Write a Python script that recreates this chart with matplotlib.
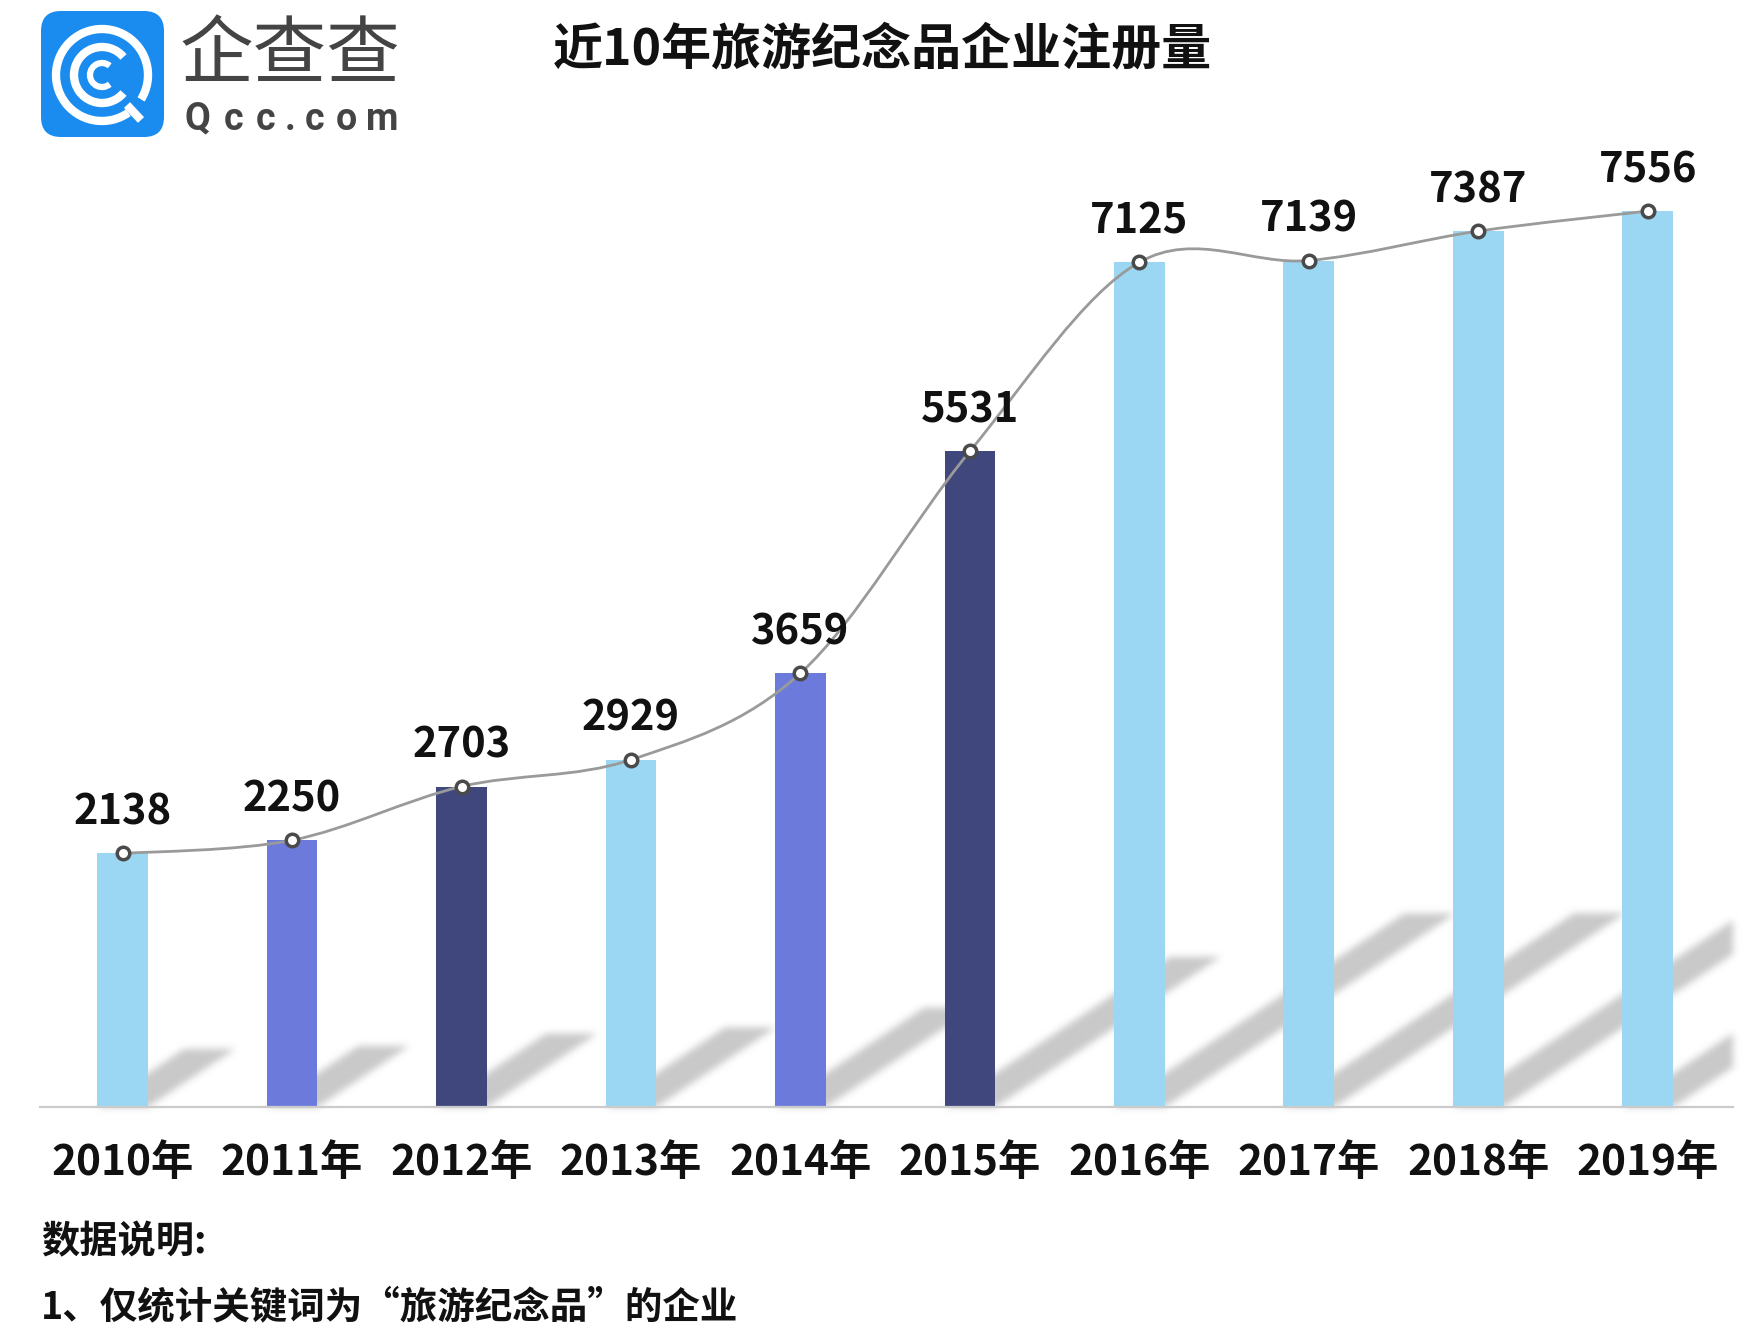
import numpy as np
import matplotlib
matplotlib.use("Agg")
import matplotlib.pyplot as plt
from matplotlib.patches import Polygon, PathPatch, FancyBboxPatch, Arc
from matplotlib.path import Path

plt.rcParams['font.family'] = ['Noto Sans CJK SC', 'DejaVu Sans']

years = ["2010年", "2011年", "2012年", "2013年", "2014年", "2015年", "2016年", "2017年", "2018年", "2019年"]
values = [2138, 2250, 2703, 2929, 3659, 5531, 7125, 7139, 7387, 7556]
LIGHT, MID, DARK = "#9BD7F3", "#6C7BDB", "#40477C"
bar_colors = [LIGHT, MID, DARK, LIGHT, MID, DARK, LIGHT, LIGHT, LIGHT, LIGHT]
title = "近10年旅游纪念品企业注册量"
note_head = "数据说明:"
note_line = "1、仅统计关键词为“旅游纪念品”的企业"

W, H = 1763, 1344
fig = plt.figure(figsize=(W / 100, H / 100), dpi=100, facecolor="white")
AX_L, AX_R, AX_B, AX_T = 39.5, 1733, 1107, 130
ax = fig.add_axes([AX_L / W, 1 - AX_B / H, (AX_R - AX_L) / W, (AX_B - AX_T) / H])
X0, DX = 122.6, 169.47
PY = 0.11857
ax.set_xlim((AX_L - X0) / DX, (AX_R - X0) / DX)
ax.set_ylim(0, (AX_B - AX_T) / PY)
x = np.arange(len(values))
BAR_W = 0.30


def blur(im, dpi, r=3):
    # Blur only the alpha channel so the shadow keeps its own grey
    pad = r * 3 + 2
    alpha = np.pad(im[:, :, 3], pad)
    for _ in range(3):
        for axis in (0, 1):
            alpha = np.apply_along_axis(lambda a: np.convolve(a, np.ones(2 * r + 1) / (2 * r + 1), mode="same"),
                                        axis, alpha)
    out = np.zeros(alpha.shape + (4,))
    out[:, :, :3] = matplotlib.colors.to_rgb("#C9C9C9")
    out[:, :, 3] = np.clip(alpha, 0, 1)
    return out, -pad, -pad


# Shadows: sheared copies of each bar, scaled from the bar's value
SH_H, SH_SHEAR = 0.229, 1.5
for xi, v in zip(x, values):
    h = v * SH_H
    shift = h * PY * SH_SHEAR / DX
    poly = Polygon([(xi - BAR_W / 2, 0), (xi + BAR_W / 2, 0),
                    (xi + BAR_W / 2 + shift, h), (xi - BAR_W / 2 + shift, h)],
                   closed=True, facecolor="#C9C9C9", edgecolor="none", zorder=1)
    poly.set_agg_filter(blur)
    ax.add_patch(poly)

ax.bar(x, values, width=BAR_W, color=bar_colors, zorder=2)

# Smoothed connecting line (Catmull-Rom Bezier segments through the values)
pts = np.column_stack([x, values]).astype(float)
verts = [tuple(pts[0])]
codes = [Path.MOVETO]
for i in range(len(pts) - 1):
    p0 = pts[max(i - 1, 0)]
    p1, p2 = pts[i], pts[i + 1]
    p3 = pts[min(i + 2, len(pts) - 1)]
    verts += [tuple(p1 + (p2 - p0) / 6), tuple(p2 - (p3 - p1) / 6), tuple(p2)]
    codes += [Path.CURVE4] * 3
ax.add_patch(PathPatch(Path(verts, codes), facecolor="none", edgecolor="#9A9A9A", lw=2.0, zorder=3))
ax.plot(x, values, ls="none", marker="o", ms=9, mfc="white", mec="#4A4A4A", mew=2.5, zorder=4)

for xi, v in zip(x, values):
    ax.annotate(str(v), (xi, v), xytext=(0, 29.5), textcoords="offset points",
                ha="center", va="center", fontsize=30, fontweight="bold", color="#111111", zorder=5)

for s in ("top", "left", "right"):
    ax.spines[s].set_visible(False)
ax.spines["bottom"].set_color("#CBCBCB")
ax.spines["bottom"].set_linewidth(1.6)
ax.set_yticks([])
ax.set_xticks(x)
ax.set_xticklabels(years, fontsize=30.5, fontweight="bold", color="#111111")
ax.tick_params(axis="x", length=0, pad=25)
ax.patch.set_visible(False)

# Overlay in pixel coordinates for the logo and texts
ov = fig.add_axes([0, 0, 1, 1], zorder=10)
ov.set_xlim(0, W)
ov.set_ylim(H, 0)
ov.axis("off")

ov.text(882, 50, title, ha="center", va="center", fontsize=36, fontweight="bold", color="#111111")
ov.text(41, 1242, note_head, ha="left", va="center", fontsize=27.5, fontweight="bold", color="#111111")
ov.text(41, 1307, note_line, ha="left", va="center", fontsize=27, fontweight="bold", color="#111111")

# Logo
BLUE = "#1A8CF0"
ov.add_patch(FancyBboxPatch((41 + 20, 11 + 20), 123 - 40, 126 - 40, boxstyle="round,pad=20,rounding_size=20",
                            facecolor=BLUE, edgecolor="none"))
cx, cy = 102, 75
ov.add_patch(Arc((cx, cy), 92, 92, theta1=55, theta2=32 + 360, edgecolor="white", lw=6))
ov.add_patch(Arc((cx, cy), 56, 56, theta1=40, theta2=320, edgecolor="white", lw=6))
ov.add_patch(Arc((cx, cy), 24, 24, theta1=50, theta2=310, edgecolor="white", lw=4.5))
ov.plot([127, 141], [105, 120], color="white", lw=6, solid_capstyle="butt")

ov.text(290, 56, "企查查", ha="center", va="center", fontsize=53, color="#444444", fontweight="light")
for ch, cxx in zip("Qcc.com", [197, 234, 266, 290, 315, 346, 382]):
    ov.text(cxx, 119, ch, ha="center", va="center", fontsize=27, color="#444444", family="Roboto", fontweight="bold")

fig.savefig("out.png", dpi=100, facecolor="white")
